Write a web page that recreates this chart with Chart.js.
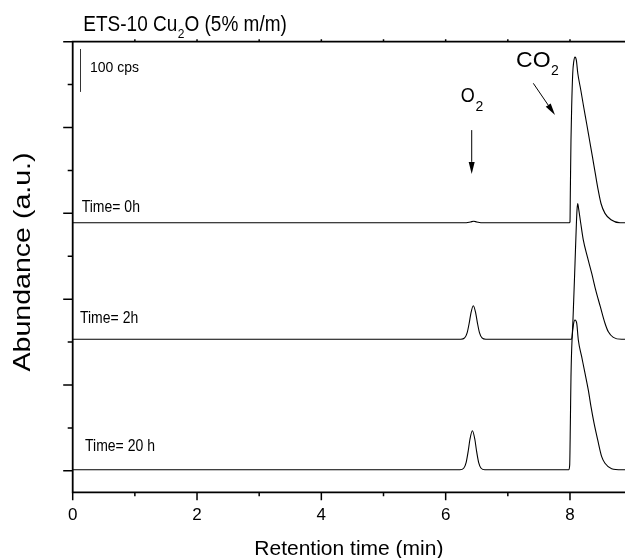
<!DOCTYPE html>
<html>
<head>
<meta charset="utf-8">
<script src="https://cdn.jsdelivr.net/npm/chart.js@4.4.1/dist/chart.umd.min.js"></script>
<style>
html,body{margin:0;padding:0;background:#fff;}
#wrap{position:relative;width:625px;height:558px;}
</style>
</head>
<body>
<div id="wrap"><canvas id="c"></canvas></div>
<script>
const FONT = '"Liberation Sans", Arial, Helvetica, sans-serif';

// ---- data ----
const xTickLabels = ['0', '2', '4', '6', '8'];
const seriesNames = ['Time= 0h', 'Time= 2h', 'Time= 20 h'];

const time0h  = [0, 6.30, 6.40, 6.45, 6.50, 6.60, 7.99, 8.0, 8.006, 8.016, 8.027, 8.044, 8.06, 8.081, 8.102, 8.126, 8.173, 8.219, 8.267, 8.314, 8.361, 8.407, 8.454, 8.499, 8.563, 8.66, 8.805, 8.885];
const abund0h = [578, 578, 580, 581.5, 580, 578, 578, 580, 654, 771, 848, 926, 953, 964, 957, 926, 888, 849, 810, 771, 732, 693, 654, 623, 600, 585, 578, 578];

const time2h  = [0, 6.245, 6.305, 6.345, 6.38, 6.405, 6.445, 6.485, 6.51, 6.545, 6.585, 6.645, 8.025, 8.038, 8.06, 8.081, 8.102, 8.113, 8.124, 8.14, 8.173, 8.214, 8.279, 8.35, 8.414, 8.488, 8.563, 8.617, 8.697, 8.832, 8.885];
const abund2h = [306.5, 306.5, 309.6, 321.4, 345.4, 366.6, 384.8, 366.6, 345.4, 321.4, 309.6, 306.5, 306.5, 320.5, 398, 484, 572, 608, 623, 610, 577, 538, 499, 460, 421, 382.5, 344, 324, 311, 306.5, 306.5];

const time20h  = [0, 6.23, 6.29, 6.33, 6.365, 6.39, 6.43, 6.47, 6.495, 6.53, 6.57, 6.63, 7.98, 7.995, 8.006, 8.016, 8.033, 8.054, 8.081, 8.108, 8.134, 8.188, 8.242, 8.295, 8.338, 8.387, 8.446, 8.51, 8.563, 8.67, 8.83, 8.885];
const abund20h = [2.5, 2.5, 6, 20, 48, 73, 93.5, 73, 48, 20, 6, 2.5, 2.5, 13, 111, 219, 305, 339, 351.5, 344, 305, 266, 227, 188, 149.5, 111, 72, 33, 17.6, 5, 2.5, 2.5];

const scaleBarCps = [883, 983]; // 100 cps bar

function toXY(ts, vs) { return ts.map((t, i) => ({x: t, y: vs[i]})); }

// ---- helpers ----
function sText(ctx, txt, x, y, size, sy, align) {
  ctx.save();
  ctx.translate(x, y);
  ctx.scale(1, sy);
  ctx.font = size + 'px ' + FONT;
  ctx.textAlign = align || 'left';
  ctx.textBaseline = 'alphabetic';
  ctx.fillStyle = '#000';
  ctx.fillText(txt, 0, 0);
  const w = ctx.measureText(txt).width;
  ctx.restore();
  return w;
}
function arrow(ctx, x0, y0, x1, y1, hl, hw) {
  const a = Math.atan2(y1 - y0, x1 - x0);
  ctx.save();
  ctx.strokeStyle = '#000'; ctx.fillStyle = '#000'; ctx.lineWidth = 1;
  ctx.beginPath();
  ctx.moveTo(x0, y0);
  ctx.lineTo(x1 - hl * Math.cos(a), y1 - hl * Math.sin(a));
  ctx.stroke();
  ctx.translate(x1, y1); ctx.rotate(a);
  ctx.beginPath();
  ctx.moveTo(0, 0); ctx.lineTo(-hl, -hw); ctx.lineTo(-hl, hw); ctx.closePath();
  ctx.fill();
  ctx.restore();
}

const axesPlugin = {
  id: 'axesDraw',
  afterDatasetsDraw(chart) {
    const {ctx, chartArea: a, scales: {x, y}} = chart;
    ctx.save();
    ctx.strokeStyle = '#000';
    ctx.lineWidth = 1.8;
    ctx.lineCap = 'square';
    ctx.beginPath();
    ctx.moveTo(a.left, a.top); ctx.lineTo(a.left, a.bottom);
    ctx.moveTo(a.left, a.bottom); ctx.lineTo(a.right + 2, a.bottom);
    ctx.moveTo(a.left, a.top); ctx.lineTo(a.right + 2, a.top);
    ctx.stroke();
    ctx.lineCap = 'butt';
    ctx.lineWidth = 1.5;
    ctx.beginPath();
    x.ticks.forEach(t => {
      if (!Number.isInteger(t.value)) return;
      const px = x.getPixelForValue(t.value);
      const len = t.value % 2 === 0 ? 8 : 4;
      ctx.moveTo(px, a.bottom); ctx.lineTo(px, a.bottom + len);
      if (t.value > 0) { ctx.moveTo(px, a.top); ctx.lineTo(px, a.top - 2.5); }
    });
    y.ticks.forEach(t => {
      if (t.value < 0) return;
      const py = y.getPixelForValue(t.value);
      const len = t.value % 200 === 0 ? 9.5 : 5;
      ctx.moveTo(a.left, py); ctx.lineTo(a.left - len, py);
    });
    ctx.stroke();
    ctx.restore();
  }
};

const annot = {
  o2Label: {x: 6.242, y: 859.5},
  co2Label: {x: 7.132, y: 940.4},
  o2Arrow: {x0: 6.419, y0: 794, x1: 6.419, y1: 692},
  co2Arrow: {x0: 7.41, y0: 903, x1: 7.759, y1: 829},
  scaleBarX: 0.117,
  scaleLabel: {x: 0.278, y: 930},
  timeLabels: [{x: 0.145, y: 604}, {x: 0.117, y: 344}, {x: 0.198, y: 47}]
};

const annotPlugin = {
  id: 'annot',
  afterDraw(chart) {
    const {ctx, chartArea: a, scales: {x, y}} = chart;
    ctx.save();
    // chart title with subscript
    let cx = 83.3;
    cx += sText(ctx, 'ETS-10 Cu', cx, 31, 19, 1.15);
    cx += sText(ctx, '2', cx + 0.5, 37.5, 12, 1.1) + 0.5;
    sText(ctx, 'O (5% m/m)', cx, 31, 19, 1.15);

    // y-axis title (rotated), roughly centred on the axis
    ctx.save();
    ctx.translate(30, (a.top + a.bottom) / 2 - 5);
    ctx.rotate(-Math.PI / 2);
    ctx.scale(1.19, 1);
    ctx.font = '24px ' + FONT;
    ctx.textAlign = 'center'; ctx.textBaseline = 'alphabetic'; ctx.fillStyle = '#000';
    ctx.fillText('Abundance (a.u.)', 0, 0);
    ctx.restore();

    // scale bar
    const sbx = Math.round(x.getPixelForValue(annot.scaleBarX)) + 0.5;
    ctx.strokeStyle = '#333'; ctx.lineWidth = 1;
    ctx.beginPath();
    ctx.moveTo(sbx, y.getPixelForValue(scaleBarCps[0]));
    ctx.lineTo(sbx, y.getPixelForValue(scaleBarCps[1]));
    ctx.stroke();
    sText(ctx, '100 cps', x.getPixelForValue(annot.scaleLabel.x), y.getPixelForValue(annot.scaleLabel.y), 14, 1.05);

    // series labels
    seriesNames.forEach((n, i) => {
      const p = annot.timeLabels[i];
      sText(ctx, n, x.getPixelForValue(p.x), y.getPixelForValue(p.y), 14, 1.15);
    });

    // O2 label + arrow
    let ox = x.getPixelForValue(annot.o2Label.x), oy = y.getPixelForValue(annot.o2Label.y);
    let w = sText(ctx, 'O', ox, oy, 18, 1.1);
    sText(ctx, '2', ox + w + 0.8, oy + 9.5, 14, 1.0);
    arrow(ctx, x.getPixelForValue(annot.o2Arrow.x0), y.getPixelForValue(annot.o2Arrow.y0),
               x.getPixelForValue(annot.o2Arrow.x1), y.getPixelForValue(annot.o2Arrow.y1), 12, 3);

    // CO2 label + arrow
    ox = x.getPixelForValue(annot.co2Label.x); oy = y.getPixelForValue(annot.co2Label.y);
    w = sText(ctx, 'CO', ox, oy, 23, 0.98);
    sText(ctx, '2', ox + w + 0.5, oy + 7.7, 14, 1.0);
    arrow(ctx, x.getPixelForValue(annot.co2Arrow.x0), y.getPixelForValue(annot.co2Arrow.y0),
               x.getPixelForValue(annot.co2Arrow.x1), y.getPixelForValue(annot.co2Arrow.y1), 12, 3);
    ctx.restore();
  }
};

const mkDs = (label, ts, vs) => ({
  label, data: toXY(ts, vs),
  borderColor: '#000', borderWidth: 1.1,
  pointRadius: 0, fill: false,
  cubicInterpolationMode: 'monotone'
});

new Chart(document.getElementById('c'), {
  type: 'line',
  data: {
    datasets: [
      mkDs(seriesNames[0], time0h, abund0h),
      mkDs(seriesNames[1], time2h, abund2h),
      mkDs(seriesNames[2], time20h, abund20h)
    ]
  },
  options: {
    responsive: true,
    maintainAspectRatio: false,
    animation: false,
    events: [],
    layout: {padding: {top: 41.7, left: 0, right: 0, bottom: 0}},
    plugins: {legend: {display: false}, tooltip: {enabled: false}, title: {display: false}},
    scales: {
      x: {
        type: 'linear', min: 0, max: 8.885,
        grid: {display: false, drawTicks: false},
        border: {display: false},
        ticks: {
          stepSize: 1, autoSkip: false, maxRotation: 0, padding: 0, includeBounds: false,
          color: '#000', font: {family: FONT, size: 17, lineHeight: 2.67},
          callback: (v) => xTickLabels.includes(String(v)) ? String(v) : ''
        },
        title: {display: true, text: 'Retention time (min)', color: '#000',
                font: {family: FONT, size: 21, lineHeight: 0.82}, padding: 0},
        afterFit: (s) => { s.height = 558 - 492.3; }
      },
      y: {
        type: 'linear', min: -50, max: 1000,
        grid: {display: false, drawTicks: false},
        border: {display: false},
        ticks: {stepSize: 100, display: false},
        afterFit: (s) => { s.width = 72.7; }
      }
    }
  },
  plugins: [axesPlugin, annotPlugin]
});
</script>
</body>
</html>
